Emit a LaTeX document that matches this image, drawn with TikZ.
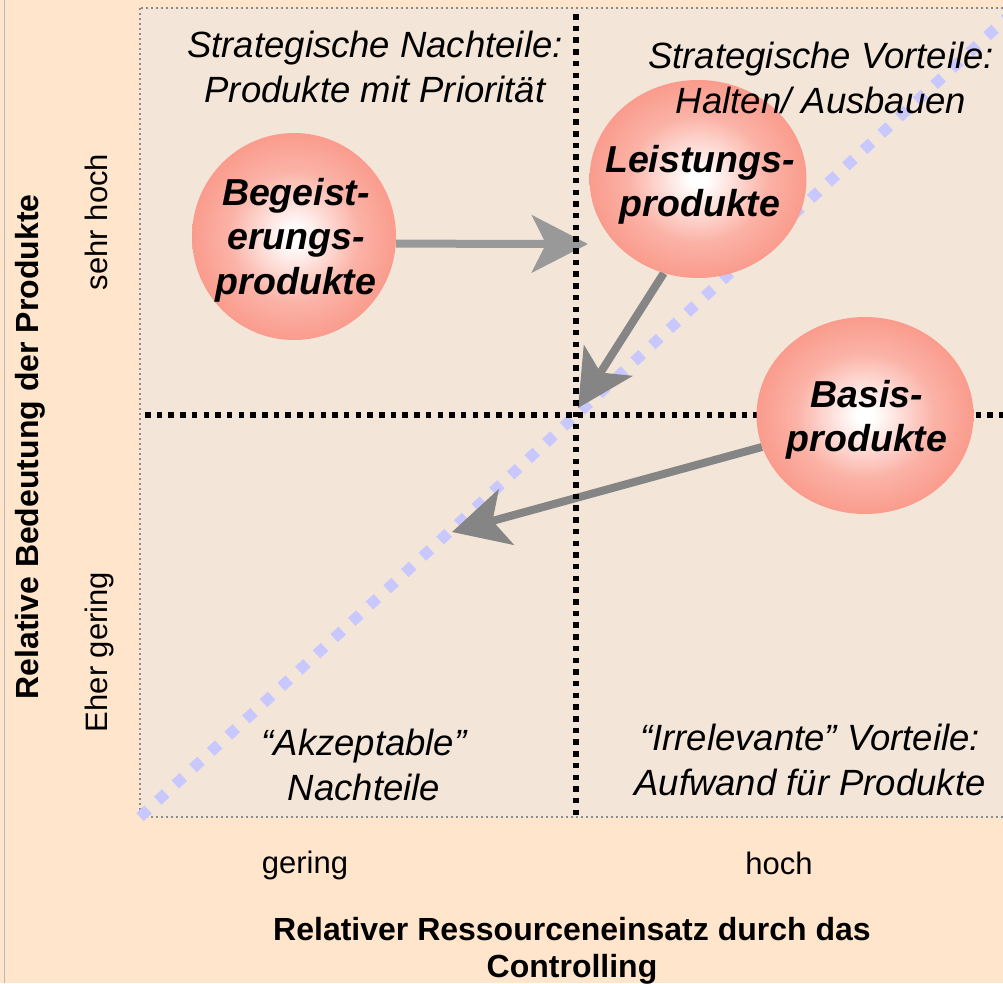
\documentclass[tikz,border=0pt]{standalone}
\usepackage{fontspec}
\setmainfont{Liberation Sans}
\usetikzlibrary{arrows.meta,shapes.geometric}
\definecolor{peach}{HTML}{FFE5CB}
\definecolor{panel}{HTML}{F3E6D9}
\definecolor{salm}{HTML}{F98A79}
\definecolor{salmmid}{HTML}{FBB2A6}
\definecolor{lav}{HTML}{C8C8FF}
\definecolor{argray}{HTML}{858585}
\definecolor{argraylight}{HTML}{999999}
\definecolor{dotgray}{HTML}{8C8C8C}
\pgfdeclareradialshading{ballshade}{\pgfpoint{0bp}{0bp}}{color(0bp)=(white); color(2bp)=(white); color(16bp)=(salmmid); color(32bp)=(salm); color(50bp)=(salm)}
\pgfdeclarelayer{back}
\pgfsetlayers{back,main}
\tikzset{
  ball/.style={ellipse, inner sep=0pt, shade, shading=ballshade, draw=none},
  balltext/.style={anchor=north, inner sep=0pt, align=center, font=\fontsize{37.5}{44.5}\selectfont\bfseries\itshape},
  quadtext/.style={anchor=north, inner sep=0pt, align=center, font=\fontsize{36.5}{45}\selectfont\itshape},
  axisval/.style={anchor=base, inner sep=0pt, font=\fontsize{31}{37}\selectfont},
  axistitle/.style={inner sep=0pt, align=center, font=\fontsize{32}{37}\selectfont\bfseries},
  movearrow/.style={line width=8pt, draw=argray, -{Stealth[length=56pt,width=57pt,inset=14pt]}},
  blackdots/.style={line width=5.5pt, dash pattern=on 5.5pt off 6.2pt},
  diagline/.style={draw=lav, line width=11pt, dash pattern=on 11pt off 13pt},
}
\begin{document}
\begin{tikzpicture}[x=1pt,y=-1pt]
\useasboundingbox (0,0) rectangle (1003,983);
% product circles
\node[ball, minimum width=204pt, minimum height=207pt] (beg) at (294,236.5) {};
\node[ball, minimum width=217pt, minimum height=198pt] (leis) at (698,179) {};
\node[ball, minimum width=217pt, minimum height=197pt] (bas) at (865,415.5) {};
\node[balltext] (begt) at (296,178) {Begeist-\\erungs-\\produkte};
\node[balltext] (leist) at (700,145) {Leistungs-\\produkte};
\node[balltext] (bast) at (867,380) {Basis-\\produkte};
% quadrant labels
\node[quadtext] (q1) at (375,31) {Strategische Nachteile:\\Produkte mit Priorität};
\node[quadtext] (q2) at (821,42) {Strategische Vorteile:\\Halten/ Ausbauen};
\node[quadtext] (q3) at (364,729) {“Akzeptable”\\Nachteile};
\node[quadtext] (q4) at (810,724) {“Irrelevante” Vorteile:\\Aufwand für Produkte};
% axis labels
\node[axisval] (xlo) at (305,873) {gering};
\node[axisval] (xhi) at (779,874) {hoch};
\node[axisval, rotate=90] (yhi) at (107,222) {sehr hoch};
\node[axisval, rotate=90] (ylo) at (107,652) {Eher gering};
\node[axistitle, anchor=north] (xtitle) at (572,917) {Relativer Ressourceneinsatz durch das\\Controlling};
\node[axistitle, anchor=base, rotate=90] (ytitle) at (38,447) {Relative Bedeutung der Produkte};
% arrow end points
\coordinate (t1) at (588,244);
\coordinate (t2) at (578,408);
\coordinate (t3) at (452,532);
\begin{pgfonlayer}{back}
  \fill[peach] (0,0) rectangle (1003,983);
  \draw[gray!55, line width=1pt] (4,0) -- (4,983);
  \fill[panel] (140,8) rectangle (1010,817);
  \draw[dotgray, line width=2pt, dash pattern=on 2pt off 3pt] (140,8) rectangle (1010,817);
  \draw[diagline] (140,817) -- (1010,15);
  \draw[movearrow, draw=argraylight] (beg.-4) -- (t1);
  \draw[movearrow] (leis.-110) -- (t2);
  \draw[movearrow] (bas.197) -- (t3);
  \draw[blackdots] (576,14) -- (576,817);
  \draw[blackdots] (145,415) -- (1003,415);
\end{pgfonlayer}
\end{tikzpicture}
\end{document}
